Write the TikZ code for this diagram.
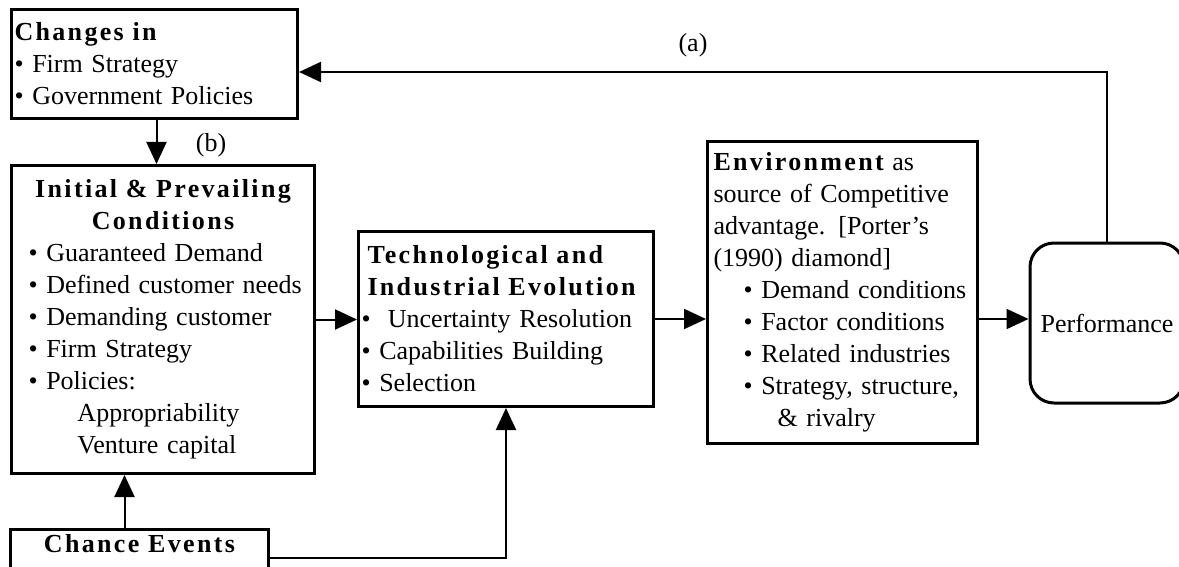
\documentclass[tikz,border=0pt]{standalone}
\usepackage{fontspec}
\setmainfont{Liberation Serif}
\newfontfamily\hdfont[LetterSpace=9]{Liberation Serif}
\usetikzlibrary{arrows.meta,positioning,calc}

\newcommand{\hd}[1]{{\hdfont\bfseries #1}}
\newcommand{\bul}{\textbullet\ }

\begin{document}
\begin{tikzpicture}[x=0.5pt,y=-0.5pt,
    box/.style={draw, line width=1.5pt, anchor=north west, align=left,
        inner xsep=1.5pt, inner ysep=0pt, font=\fontsize{13}{16}\selectfont},
    flow/.style={line width=1pt, -{Triangle[length=11pt,width=10pt]}},
    lbl/.style={font=\fontsize{13}{16}\selectfont}]
    \useasboundingbox (0,0) rectangle (1179,567);

    % Boxes
    \node[box, text width=140pt, minimum height=54.5pt] (chg) at (10,8)
        {\hd{Changes in}\\ \bul Firm Strategy\\ \bul Government Policies};
    \node[box, text width=148.5pt, minimum height=154pt] (init) at (10,164)
        {\makebox[148.5pt]{\hd{Initial \& Prevailing}}\\
         \makebox[148.5pt]{\hd{Conditions}}\\
         \hspace*{7pt}\bul Guaranteed Demand\\
         \hspace*{7pt}\bul Defined customer needs\\
         \hspace*{7pt}\bul Demanding customer\\
         \hspace*{7pt}\bul Firm Strategy\\
         \hspace*{7pt}\bul Policies:\\
         \hspace*{31.5pt}Appropriability\\
         \hspace*{31.5pt}Venture capital};
    \node[box, text width=144.5pt, minimum height=87.5pt] (tech) at (357,230)
        {\hspace*{3pt}\hd{Technological and}\\
         \hspace*{3pt}\hd{Industrial Evolution}\\
         \bul\ Uncertainty Resolution\\
         \bul Capabilities Building\\
         \bul Selection};
    \node[box, inner xsep=3pt, text width=129pt, minimum height=151pt] (env) at (706,140)
        {\hd{Environment} as\\
         source of Competitive\\
         advantage. [Porter's\\
         (1990) diamond]\\
         \hspace*{15pt}\bul Demand conditions\\
         \hspace*{15pt}\bul Factor conditions\\
         \hspace*{15pt}\bul Related industries\\
         \hspace*{15pt}\bul Strategy, structure,\\
         \hspace*{32pt}\& rivalry};
    \node[box, anchor=center, align=center, rounded corners=12pt,
        minimum width=77pt, minimum height=80pt] (perf) at (1107,323) {Performance};
    \node[box, align=center, minimum width=129pt, inner ysep=2pt, text height=9.5pt,
        text depth=15pt] (chance) at (9,528) {\hd{Chance Events}};

    % Arrows
    \draw[flow] ([xshift=1pt]chg.south) -- ([xshift=1pt]chg.south |- init.north);
    \draw[flow] (init.east) -- (init.east -| tech.west);
    \draw[flow] (tech.east) -- (tech.east -| env.west);
    \draw[flow] ([yshift=2pt]perf.west -| env.east) -- ([yshift=2pt]perf.west);
    \draw[flow] (perf.north) |- ([yshift=-4pt]chg.east);
    \draw[flow] ([xshift=-7.5pt]chance.north) -- ([xshift=-7.5pt]chance.north |- init.south);
    \draw[flow] (chance.east) -| (tech.south);

    % Labels
    \node[lbl] (lblb) at (211,145) {(b)};
    \node[lbl] (lbla) at (693,45) {(a)};
\end{tikzpicture}
\end{document}
